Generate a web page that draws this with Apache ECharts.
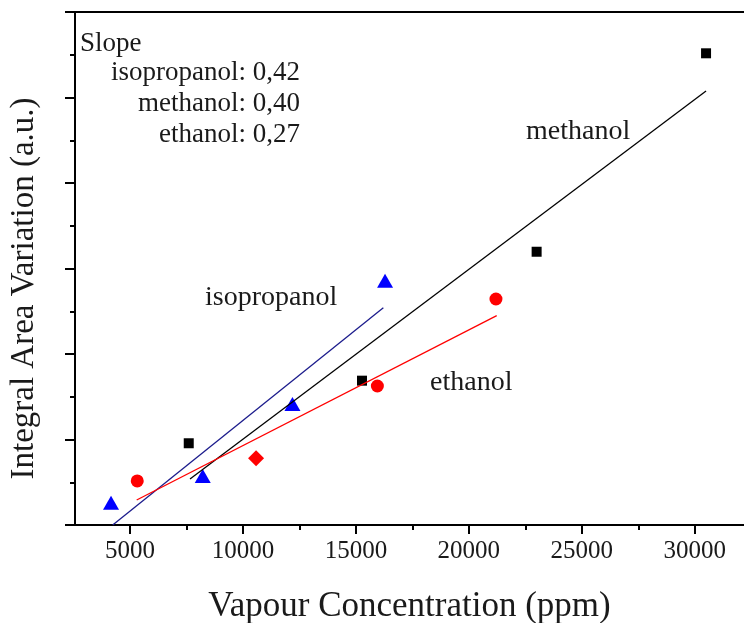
<!DOCTYPE html>
<html>
<head>
<meta charset="utf-8">
<script src="https://cdn.jsdelivr.net/npm/echarts@6/dist/echarts.min.js"></script>
<style>
  html, body { margin: 0; padding: 0; background: #fff; }
  #main { width: 744px; height: 623px; }
</style>
</head>
<body>
<div id="main"></div>
<script>
// data (x: ppm, y: arbitrary units, one unit = one major y tick)
var methanolX = [7600, 15270, 23000, 30500];
var methanolY = [0.956, 1.688, 3.196, 5.517];
var ethanolX = [5320, 10580, 15950, 21200];
var ethanolY = [0.515, 0.780, 1.626, 2.643];
var isopropanolX = [4160, 8220, 12190, 16290];
var isopropanolY = [0.261, 0.573, 1.415, 2.857];

// linear fits: start and end points
var methanolFitX = [7656, 30500];
var methanolFitY = [0.538, 5.076];
var ethanolFitX = [5296, 21234];
var ethanolFitY = [0.292, 2.448];
var isopropanolFitX = [4234, 16214];
var isopropanolFitY = [0, 2.542];

var xMajorTicks = [5000, 10000, 15000, 20000, 25000, 30000];
var xMinorTicks = [7500, 12500, 17500, 22500, 27500];

var slopeLines = ['isopropanol: 0,42', 'methanol: 0,40', 'ethanol: 0,27'];

function pairs(xs, ys) {
    return xs.map(function (x, i) { return [x, ys[i]]; });
}

var serif = 'Liberation Serif';
var txt = '#1a1a1a';
var annFont = '27px "Liberation Serif"';
var lblFont = '28px "Liberation Serif"';

var chart = echarts.init(document.getElementById('main'));

var option = {
    animation: false,
    grid: { left: 75, right: 0, top: 12, bottom: 98, outerBoundsMode: 'none' },
    xAxis: [
        {
            type: 'value', position: 'bottom',
            min: 2565, max: 32180,
            name: 'Vapour Concentration (ppm)',
            nameLocation: 'middle', nameGap: 64,
            nameTextStyle: { fontFamily: serif, fontSize: 35, color: txt },
            axisLine: { lineStyle: { color: '#000', width: 2 } },
            axisTick: { customValues: xMajorTicks, length: 9, lineStyle: { color: '#000', width: 2 } },
            axisLabel: {
                customValues: xMajorTicks, margin: 14,
                fontFamily: serif, fontSize: 25, color: txt,
                formatter: function (v) { return String(v); }
            },
            splitLine: { show: false }
        },
        {
            type: 'value', position: 'bottom',
            min: 2565, max: 32180,
            axisLine: { show: false },
            axisTick: { customValues: xMinorTicks, length: 5, lineStyle: { color: '#000', width: 2 } },
            axisLabel: { show: false },
            splitLine: { show: false }
        },
        {
            type: 'value', position: 'top',
            min: 2565, max: 32180,
            axisLine: { lineStyle: { color: '#000', width: 2 } },
            axisTick: { show: false },
            axisLabel: { show: false },
            splitLine: { show: false }
        }
    ],
    yAxis: {
        type: 'value',
        min: 0, max: 6, interval: 1,
        name: 'Integral Area Variation (a.u.)',
        nameLocation: 'middle', nameGap: 34,
        nameTextStyle: { fontFamily: serif, fontSize: 33, color: txt, padding: [0, 40, 0, 0] },
        axisLine: { lineStyle: { color: '#000', width: 2 } },
        axisTick: { length: 10, lineStyle: { color: '#000', width: 2 } },
        minorTick: { show: true, splitNumber: 2, length: 5, lineStyle: { color: '#000', width: 2 } },
        axisLabel: { show: false },
        splitLine: { show: false }
    },
    series: [
        {
            type: 'line', data: pairs(isopropanolFitX, isopropanolFitY),
            showSymbol: false, symbol: 'none',
            lineStyle: { color: '#1c1c8c', width: 1.3 }
        },
        {
            type: 'line', data: pairs(methanolFitX, methanolFitY),
            showSymbol: false, symbol: 'none',
            lineStyle: { color: '#000', width: 1.3 }
        },
        {
            type: 'line', data: pairs(ethanolFitX, ethanolFitY),
            showSymbol: false, symbol: 'none',
            lineStyle: { color: '#ff0000', width: 1.3 }
        },
        {
            name: 'methanol', type: 'scatter',
            data: pairs(methanolX, methanolY),
            symbol: 'rect', symbolSize: 10,
            itemStyle: { color: '#000', opacity: 1 }
        },
        {
            name: 'ethanol', type: 'scatter',
            data: pairs(ethanolX, ethanolY).map(function (p, i) {
                return i === 1 ? { value: p, symbol: 'diamond', symbolSize: 16 } : p;
            }),
            symbol: 'circle', symbolSize: 13,
            itemStyle: { color: '#ff0000', opacity: 1 }
        },
        {
            name: 'isopropanol', type: 'scatter',
            data: pairs(isopropanolX, isopropanolY),
            symbol: 'triangle', symbolSize: [16, 14],
            itemStyle: { color: '#0000ff', opacity: 1 }
        }
    ],
    graphic: [
        { type: 'text', left: 80, top: 30, style: { text: 'Slope', font: annFont, fill: txt } },
        { type: 'text', right: 444, top: 59, style: { text: slopeLines[0], font: annFont, fill: txt } },
        { type: 'text', right: 444, top: 90, style: { text: slopeLines[1], font: annFont, fill: txt } },
        { type: 'text', right: 444, top: 121, style: { text: slopeLines[2], font: annFont, fill: txt } },
        { type: 'text', left: 526, top: 118, style: { text: 'methanol', font: lblFont, fill: txt } },
        { type: 'text', left: 205, top: 284, style: { text: 'isopropanol', font: lblFont, fill: txt } },
        { type: 'text', left: 430, top: 369, style: { text: 'ethanol', font: lblFont, fill: txt } }
    ]
};

chart.setOption(option);
</script>
</body>
</html>
